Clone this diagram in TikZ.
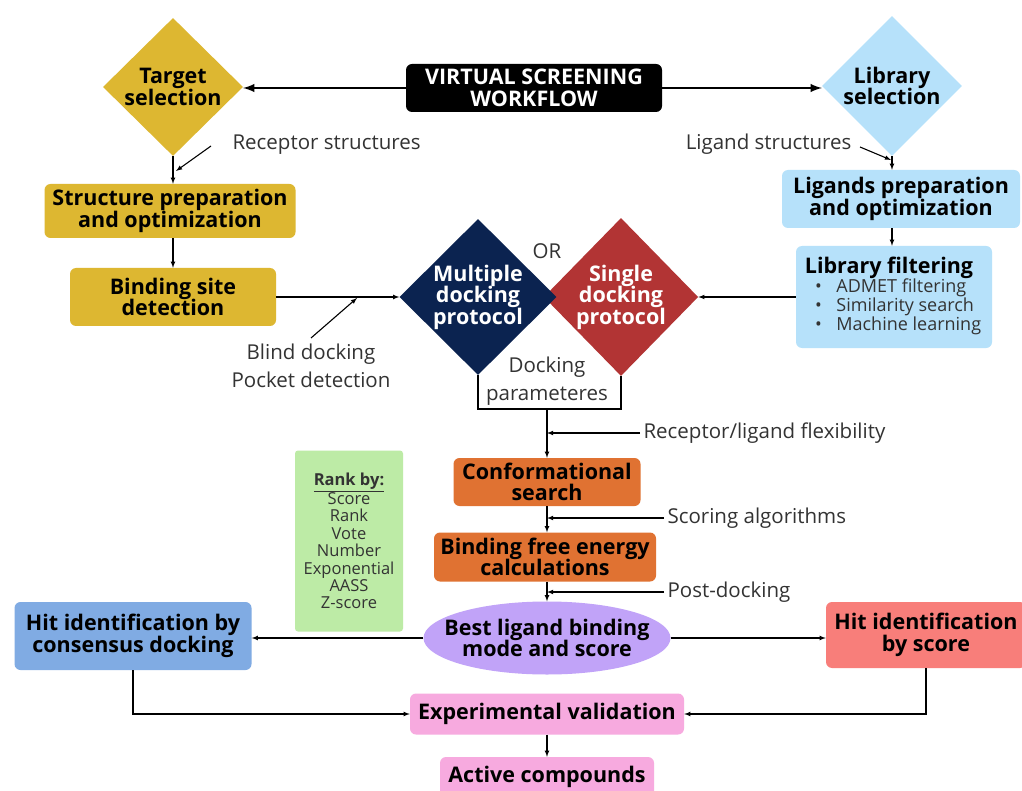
\documentclass[tikz,border=0pt]{standalone}
\usepackage{fontspec}
\setmainfont{Open Sans}
\usetikzlibrary{shapes.geometric}

\definecolor{gold}{HTML}{DDB731}
\definecolor{skyblue}{HTML}{B6E1FA}
\definecolor{navy}{HTML}{0B2350}
\definecolor{brick}{HTML}{B23434}
\definecolor{rust}{HTML}{E07232}
\definecolor{lilac}{HTML}{C1A3F8}
\definecolor{cornflower}{HTML}{80ABE3}
\definecolor{salmon}{HTML}{F87E7A}
\definecolor{candy}{HTML}{F7AADF}
\definecolor{mint}{HTML}{BDEBA6}

\begin{document}
\begin{tikzpicture}[x=1pt, y=-1pt,
  box/.style={rounded corners=6pt, inner sep=0pt, align=center, font=\bfseries\fontsize{21.5}{21.5}\selectfont},
  dia/.style={diamond, aspect=1, inner sep=0pt, align=center, font=\bfseries\fontsize{21.5}{21.5}\selectfont},
  note/.style={font=\fontsize{20.5}{27.5}\selectfont, align=center, text=black!80},
  arr/.style={-latex, line width=1.1pt},
  bigarr/.style={-latex, line width=2.8pt}]
\clip (0,0) rectangle (1022,791);
\fill[white] (0,0) rectangle (1022,791);

% title and the two selections
\node[box, fill=black, text=white, minimum width=256, minimum height=48] (title) at (534,88) {VIRTUAL SCREENING\\WORKFLOW};
\node[dia, fill=gold, minimum width=140, minimum height=138] (target) at (173,87) {Target\\selection};
\node[dia, fill=skyblue, minimum width=140, minimum height=140] (library) at (892,86) {Library\\selection};
\draw[bigarr] (title.west) -- (title.west -| target.east);
\draw[bigarr] (title.east) -- (title.east -| library.west);

% receptor side
\node[box, fill=gold, minimum width=251, minimum height=54] (prep) at (170,211) {Structure preparation\\and optimization};
\node[box, fill=gold, minimum width=206, minimum height=58] (site) at (173,297) {Binding site\\detection};
\draw[arr] (target.south) -- (target.south |- prep.north);
\draw[arr] (site.north |- prep.south) -- (site.north);
\node[note, anchor=west] (recnote) at (229,145) {Receptor structures};
\coordinate (rectail) at (211,146);
\coordinate (rechead) at (176,171);
\draw[arr] (rectail) -- (rechead);

% ligand side
\node[box, fill=skyblue, minimum width=238, minimum height=58] (ligprep) at (901,199) {Ligands preparation\\and optimization};
\node[box, fill=skyblue, minimum width=196, minimum height=102] (filter) at (894,297) {};
\node[font=\bfseries\fontsize{21.5}{21.5}\selectfont] (filttitle) at (889,268) {Library filtering};
\node[anchor=north west, align=left, inner sep=0pt, font=\fontsize{18}{19}\selectfont, text=black!80] (filtlist) at (815,279)
  {\textbullet\hspace{0.8em}ADMET filtering\\\textbullet\hspace{0.8em}Similarity search\\\textbullet\hspace{0.8em}Machine learning};
\draw[arr] (library.south) -- (library.south |- ligprep.north);
\draw[arr] (library.south |- ligprep.south) -- (library.south |- filter.north);
\node[note, anchor=east] (lignote) at (855,144) {Ligand structures};
\coordinate (ligtail) at (860,147);
\coordinate (lighead) at (891,160);
\draw[arr] (ligtail) -- (lighead);

% docking protocols
\node[dia, fill=brick, text=white, minimum width=152, minimum height=158] (single) at (621,297) {Single\\docking\\protocol};
\node[dia, fill=navy, text=white, minimum width=157, minimum height=156] (multi) at (478,297) {Multiple\\docking\\protocol};
\node[note] (or) at (547,251) {OR};
\draw[arr] (site.east) -- (multi.west);
\draw[arr] (filter.west |- single.east) -- (single.east);
\node[note] (blind) at (311,366) {Blind docking\\Pocket detection};
\coordinate (blindtail) at (311,338);
\coordinate (blindhead) at (357,298);
\draw[arr] (blindtail) -- (blindhead);

\node[note] (parm) at (547,381) {Docking\\parameteres};
\coordinate (parmbot) at (547,409);
\draw[line width=1.1pt] (multi.south) |- (parmbot) -| (single.south);

% docking run
\node[box, fill=rust, minimum width=187, minimum height=48] (conf) at (547,482) {Conformational\\search};
\node[box, fill=rust, minimum width=222, minimum height=49] (energy) at (545,557) {Binding free energy\\calculations};
\node[ellipse, fill=lilac, inner xsep=-16pt, inner ysep=0pt, minimum width=247, minimum height=73, align=center, font=\bfseries\fontsize{21.5}{21.5}\selectfont] (best) at (547,638) {Best ligand binding\\mode and score};
\draw[arr] (parmbot) -- (conf.north);
\draw[arr] (conf.south) -- (conf.south |- energy.north);
\draw[arr] (best.north |- energy.south) -- (best.north);

\node[note, anchor=west] (flexnote) at (640,433) {Receptor/ligand flexibility};
\node[note, anchor=west] (scorenote) at (664,518) {Scoring algorithms};
\node[note, anchor=west] (postnote) at (664,592) {Post-docking};
\draw[arr] (flexnote.west) -- (flexnote.west -| conf.north);
\draw[arr] (scorenote.west) -- (scorenote.west -| conf.south);
\draw[arr] (postnote.west) -- (postnote.west -| best.north);

% ranking
\node[rounded corners=3pt, fill=mint, minimum width=108, minimum height=181, inner sep=0pt, align=center,
  font=\fontsize{16.5}{17.4}\selectfont, text=black!80] (rank) at (349,541)
  {\textbf{\underline{Rank by:}}\\Score\\Rank\\Vote\\Number\\Exponential\\AASS\\Z-score};

% hits
\node[box, fill=cornflower, minimum width=237, minimum height=68] (hitcons) at (133,636) {Hit identification by\\consensus docking};
\node[box, fill=salmon, minimum width=200, minimum height=66] (hitscore) at (926,635) {Hit identification\\by score};
\draw[arr] (best.west) -- (best.west -| hitcons.east);
\draw[arr] (best.east) -- (best.east -| hitscore.west);

% validation
\node[box, fill=candy, minimum width=274, minimum height=41] (exper) at (547,714) {Experimental validation};
\node[box, fill=candy, minimum width=214, minimum height=40] (active) at (547,777) {Active compounds};
\draw[arr] (hitcons.south) |- (exper.west);
\draw[arr] (hitscore.south) |- (exper.east);
\draw[arr] (exper.south) -- (active.north);
\end{tikzpicture}
\end{document}
